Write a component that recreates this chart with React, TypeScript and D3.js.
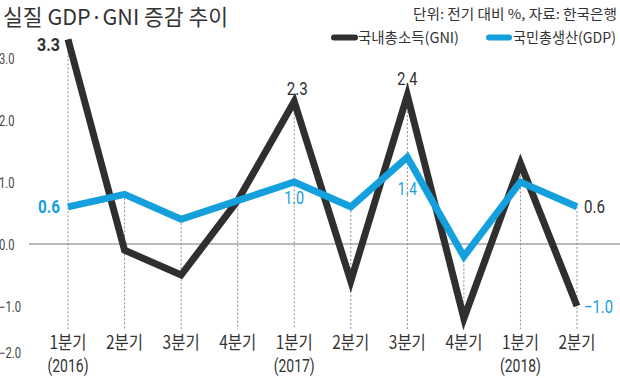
import React from 'react';
import * as d3 from 'd3';

const categories = ['1분기', '2분기', '3분기', '4분기', '1분기', '2분기', '3분기', '4분기', '1분기', '2분기'];
const years = ['(2016)', '', '', '', '(2017)', '', '', '', '(2018)', ''];
const gni = [3.3, -0.1, -0.5, 0.7, 2.3, -0.6, 2.4, -1.2, 1.3, -1.0];
const gdp = [0.6, 0.8, 0.4, 0.7, 1.0, 0.6, 1.4, -0.2, 1.0, 0.6];
const yTicks = [3, 2, 1, 0, -1, -2];
const seriesNames = ['국내총소득(GNI)', '국민총생산(GDP)'];

const W = 620;
const H = 378;
const BLACK = '#2f2f2f';
const BLUE = '#14a0dc';
const FONT = "Roboto, 'Noto Sans', sans-serif";
const KFONT = "'Noto Sans CJK KR', Roboto, sans-serif";

// value label annotations: which series/point, and how to place
const labels = [
  { s: 'gni', i: 0, text: '3.3', color: BLACK, anchor: 'end', dx: -8, dy: 12, bold: true, w: 23 },
  { s: 'gdp', i: 0, text: '0.6', color: BLUE, anchor: 'end', dx: -8, dy: 6, bold: true, w: 22 },
  { s: 'gni', i: 4, text: '2.3', color: BLACK, anchor: 'middle', dx: 3, dy: -6, bold: false, w: 21 },
  { s: 'gni', i: 6, text: '2.4', color: BLACK, anchor: 'middle', dx: 0, dy: -10, bold: false, w: 20 },
  { s: 'gdp', i: 4, text: '1.0', color: BLUE, anchor: 'middle', dx: 0, dy: 22, bold: false, w: 20 },
  { s: 'gdp', i: 6, text: '1.4', color: BLUE, anchor: 'middle', dx: 0, dy: 38, bold: false, w: 19 },
  { s: 'gdp', i: 9, text: '0.6', color: BLACK, anchor: 'start', dx: 7, dy: 6, bold: false, w: 21 },
  { s: 'gni', i: 9, text: '\u22121.0', color: BLUE, anchor: 'start', dx: 7, dy: 7, bold: false, w: 29 },
];

export default function App() {
  const x = d3.scalePoint<number>().domain(d3.range(categories.length)).range([68, 577]);
  const y = d3.scaleLinear().domain([-2, 3]).range([368, 58]);
  const line = d3.line<number>().x((_, i) => x(i) as number).y((d) => y(d));
  const series: Record<string, number[]> = { gni, gdp };

  return (
    <svg width={W} height={H} style={{ position: 'absolute', left: 0, top: 0, background: '#fff' }}>
      <rect x={0} y={0} width={W} height={H} fill="#fff" />
      {/* title */}
      <text x={3} y={25} fontFamily={KFONT} fontSize={22} fill="#333" textLength={225} lengthAdjust="spacingAndGlyphs">
        실질 GDP·GNI 증감 추이
      </text>
      <text x={617} y={19} textAnchor="end" fontFamily={KFONT} fontSize={13.5} fill="#333" textLength={204} lengthAdjust="spacingAndGlyphs">
        단위: 전기 대비 %, 자료: 한국은행
      </text>
      {/* legend */}
      <line x1={334} x2={355} y1={37.5} y2={37.5} stroke={BLACK} strokeWidth={6} strokeLinecap="round" />
      <text x={358} y={43} fontFamily={KFONT} fontSize={14.5} fill="#333" textLength={101} lengthAdjust="spacingAndGlyphs">
        {seriesNames[0]}
      </text>
      <line x1={489} x2={509} y1={37.5} y2={37.5} stroke={BLUE} strokeWidth={6} strokeLinecap="round" />
      <text x={513} y={43} fontFamily={KFONT} fontSize={14.5} fill="#333" textLength={103} lengthAdjust="spacingAndGlyphs">
        {seriesNames[1]}
      </text>

      {/* y tick labels */}
      {yTicks.map((t) => (
        <text
          key={t}
          x={-1}
          y={Math.min(y(t), 352) + 6}
          fontFamily={FONT}
          fontSize={14}
          fill="#444"
          textLength={t < 0 ? 22 : 15.5}
          lengthAdjust="spacingAndGlyphs"
        >
          {t < 0 ? '\u2212' + Math.abs(t).toFixed(1) : t.toFixed(1)}
        </text>
      ))}

      {/* zero line */}
      <line x1={29} x2={W} y1={y(0)} y2={y(0)} stroke="#777" strokeWidth={1} />

      {/* dashed drop lines */}
      {categories.map((_, i) => (
        <line
          key={'d' + i}
          x1={x(i)}
          x2={x(i)}
          y1={y(Math.max(gni[i], gdp[i]))}
          y2={329}
          stroke="#888"
          strokeWidth={1}
          strokeDasharray="2,2"
        />
      ))}

      {/* x labels */}
      {categories.map((c, i) => (
        <g key={'x' + i}>
          <text x={x(i)} y={349} textAnchor="middle" fontFamily={KFONT} fontSize={18} fill="#333" textLength={37} lengthAdjust="spacingAndGlyphs">
            {c}
          </text>
          {years[i] && (
            <text x={x(i)} y={372} textAnchor="middle" fontFamily={FONT} fontSize={18} fill="#333" textLength={41} lengthAdjust="spacingAndGlyphs">
              {years[i]}
            </text>
          )}
        </g>
      ))}

      {/* lines */}
      <path d={line(gni) || ''} fill="none" stroke={BLACK} strokeWidth={7} strokeLinejoin="miter" strokeMiterlimit={10} />
      <path d={line(gdp) || ''} fill="none" stroke={BLUE} strokeWidth={7} strokeLinejoin="miter" strokeMiterlimit={10} />

      {/* value labels */}
      {labels.map((l, k) => (
        <text
          key={'l' + k}
          x={(x(l.i) as number) + l.dx}
          y={y(series[l.s][l.i]) + l.dy}
          textAnchor={l.anchor as any}
          fontFamily={FONT}
          fontSize={18}
          fontWeight={l.bold ? 'bold' : 'normal'}
          fill={l.color}
          textLength={l.w}
          lengthAdjust="spacingAndGlyphs"
        >
          {l.text}
        </text>
      ))}
    </svg>
  );
}
